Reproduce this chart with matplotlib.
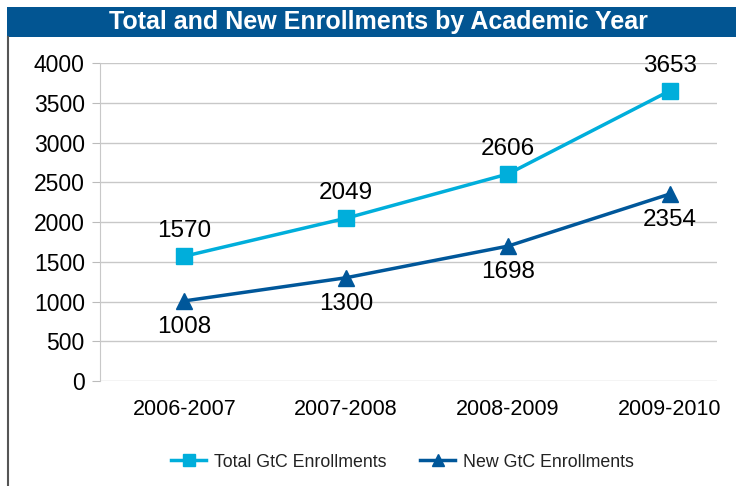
import matplotlib.pyplot as plt
from matplotlib.patches import Rectangle
from matplotlib.lines import Line2D

plt.rcParams["font.family"] = ["Liberation Sans", "DejaVu Sans"]

years = ["2006-2007", "2007-2008", "2008-2009", "2009-2010"]
total = [1570, 2049, 2606, 3653]
new = [1008, 1300, 1698, 2354]

c_total = "#00AEDB"
c_new = "#00579A"

fig = plt.figure(figsize=(7.36, 4.86), dpi=100)
ax = fig.add_axes([0.136, 0.216, 0.838, 0.654])

x = range(len(years))
ax.plot(x, total, "-s", color=c_total, lw=2.5, ms=11, label="Total GtC Enrollments")
ax.plot(x, new, "-^", color=c_new, lw=2.5, ms=11, label="New GtC Enrollments")

for i, v in enumerate(total):
    ax.annotate(str(v), (i, v), xytext=(0, 10), textcoords="offset points",
                ha="center", va="bottom", fontsize=17.5)
for i, v in enumerate(new):
    ax.annotate(str(v), (i, v), xytext=(0, -11), textcoords="offset points",
                ha="center", va="top", fontsize=17.5)

ax.set_xlim(-0.52, 3.29)
ax.set_ylim(0, 4000)
ax.set_yticks(range(0, 4001, 500))
ax.set_xticks(list(x))
ax.set_xticklabels(years)
ax.tick_params(axis="y", labelsize=16.5, length=6, color="#BBBBBB", pad=5)
ax.tick_params(axis="x", labelsize=15.5, length=0, pad=13)
ax.grid(axis="y", color="#C8C8C8", lw=1)
ax.set_axisbelow(True)
for s in ["top", "right", "bottom"]:
    ax.spines[s].set_visible(False)
ax.spines["left"].set_color("#C8C8C8")

leg = fig.legend(loc="center", bbox_to_anchor=(0.547, 0.049), ncol=2,
                 frameon=False, fontsize=12.8, handlelength=2.0, handletextpad=0.45,
                 columnspacing=1.85, markerscale=0.8)
for t in leg.get_texts():
    t.set_color("#222222")

# title banner and left border
fig.patches.append(Rectangle((0.0095, 0.924), 0.9905, 0.062, transform=fig.transFigure,
                             facecolor="#025592", edgecolor="none"))
fig.text(0.514, 0.954, "Total and New Enrollments by Academic Year", color="white",
         fontsize=18, fontweight="bold", ha="center", va="center")
fig.lines.append(Line2D([0.011, 0.011], [0.0, 0.924], transform=fig.transFigure,
                        color="#555555", lw=1.5))

fig.savefig("out.png", dpi=100)
